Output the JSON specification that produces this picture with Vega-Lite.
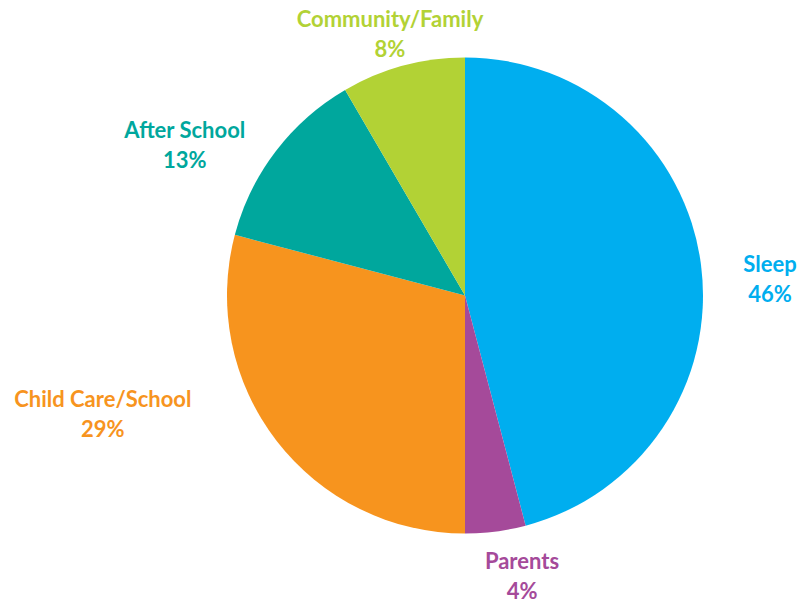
{
  "$schema": "https://vega.github.io/schema/vega-lite/v6.json",
  "autosize": {"type": "none"},
  "width": 674,
  "height": 591,
  "padding": {"left": 128, "top": 0, "right": 0, "bottom": 12},
  "background": "white",
  "data": {
    "values": [
      {"idx": 1, "cat": "Sleep", "value": 45.9, "label": "Sleep\n46%"},
      {"idx": 2, "cat": "Parents", "value": 4.1, "label": "Parents\n4%"},
      {"idx": 3, "cat": "Child Care/School", "value": 29.1, "label": "Child Care/School\n29%"},
      {"idx": 4, "cat": "After School", "value": 12.5, "label": "After School\n13%"},
      {"idx": 5, "cat": "Community/Family", "value": 8.4, "label": "Community/Family\n8%"}
    ]
  },
  "encoding": {
    "theta": {"field": "value", "type": "quantitative", "stack": true},
    "order": {"field": "idx", "type": "quantitative"},
    "color": {
      "field": "cat",
      "type": "nominal",
      "scale": {
        "domain": ["Sleep", "Parents", "Child Care/School", "After School", "Community/Family"],
        "range": ["#00AEEF", "#A54A9A", "#F7941E", "#00A79D", "#B2D235"]
      },
      "legend": null
    }
  },
  "layer": [
    {"mark": {"type": "arc", "outerRadius": 238}},
    {
      "mark": {
        "type": "text",
        "font": "Lato",
        "fontWeight": "bold",
        "fontSize": 22,
        "lineHeight": 30,
        "lineBreak": "\n",
        "align": "center",
        "baseline": "middle",
        "radius": {"expr": "datum.cat === 'Sleep' ? 306.5 : datum.cat === 'Parents' ? 272.5 : datum.cat === 'Child Care/School' ? 377 : datum.cat === 'After School' ? 325 : 285.5"},
        "thetaOffset": {"expr": "datum.cat === 'Sleep' ? 0.029 : datum.cat === 'Parents' ? -0.082 : datum.cat === 'Child Care/School' ? 0.375 : datum.cat === 'After School' ? -0.119 : -0.002"}
      },
      "encoding": {"text": {"field": "label"}}
    }
  ]
}
